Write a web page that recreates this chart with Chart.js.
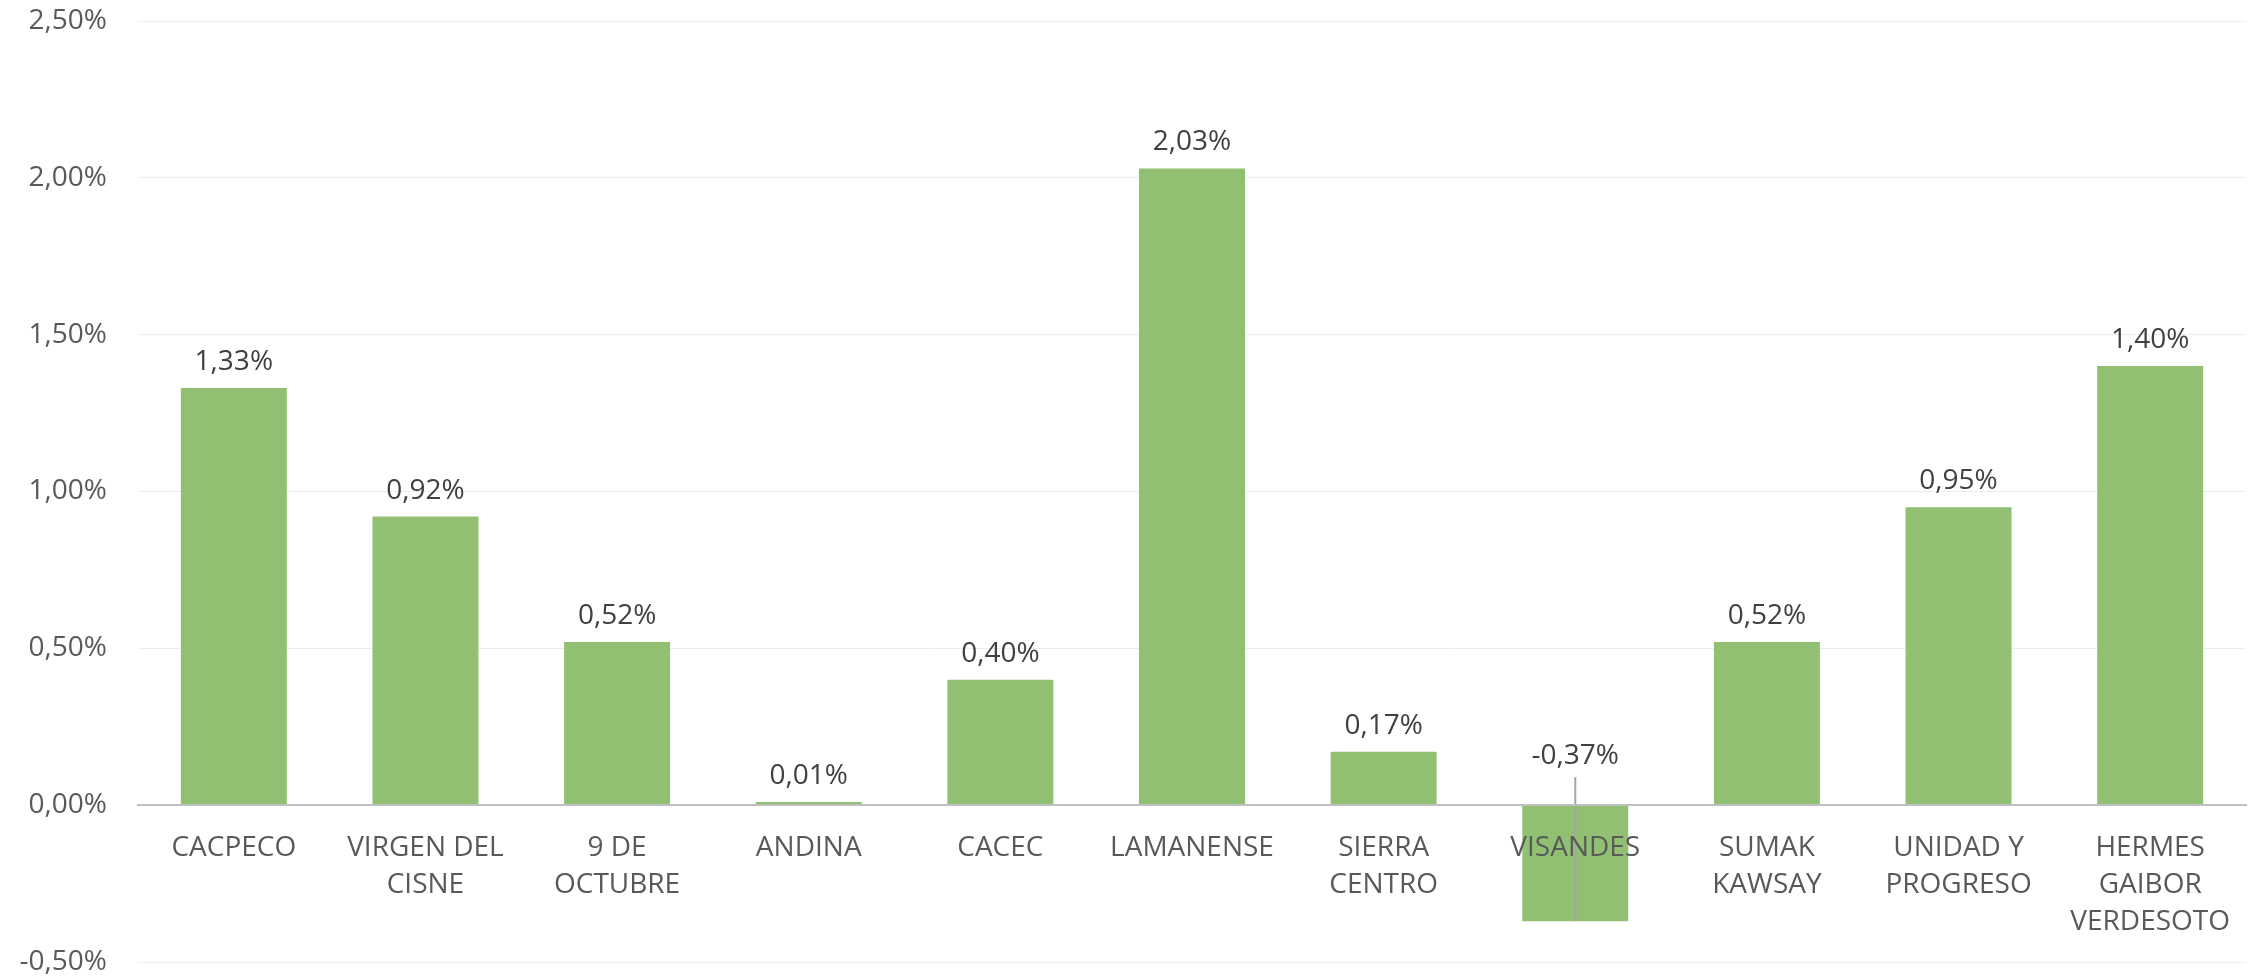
<!DOCTYPE html>
<html>
<head>
<meta charset="utf-8">
<script src="https://cdn.jsdelivr.net/npm/chart.js@4/dist/chart.umd.min.js"></script>
<style>
  html, body { margin: 0; padding: 0; background: #ffffff; }
  #wrap { width: 2255px; height: 979px; position: relative; }
</style>
</head>
<body>
<div id="wrap"><canvas id="c" width="2255" height="979"></canvas></div>
<script>
const categories = [
  ["CACPECO"],
  ["VIRGEN DEL", "CISNE"],
  ["9 DE", "OCTUBRE"],
  ["ANDINA"],
  ["CACEC"],
  ["LAMANENSE"],
  ["SIERRA", "CENTRO"],
  ["VISANDES"],
  ["SUMAK", "KAWSAY"],
  ["UNIDAD Y", "PROGRESO"],
  ["HERMES", "GAIBOR", "VERDESOTO"]
];
const values = [1.33, 0.92, 0.52, 0.01, 0.40, 2.03, 0.17, -0.37, 0.52, 0.95, 1.40];
const yMin = -0.5;
const yMax = 2.5;
const yStep = 0.5;

const fmt = v => v.toFixed(2).replace('.', ',') + '%';

const valueLabels = {
  id: 'valueLabels',
  afterDatasetsDraw(chart) {
    const ctx = chart.ctx;
    const meta = chart.getDatasetMeta(0);
    const yScale = chart.scales.y;
    const zero = yScale.getPixelForValue(0);
    ctx.save();
    ctx.font = '28px "Open Sans"';
    ctx.fillStyle = '#404040';
    ctx.textAlign = 'center';
    ctx.textBaseline = 'middle';
    meta.data.forEach((bar, i) => {
      const v = values[i];
      if (v >= 0) {
        ctx.fillText(fmt(v), bar.x, bar.y - 26);
      } else {
        ctx.fillText(fmt(v), bar.x, zero - 49);
        ctx.strokeStyle = '#A6A6A6';
        ctx.lineWidth = 2;
        ctx.beginPath();
        ctx.moveTo(bar.x, zero - 28);
        ctx.lineTo(bar.x, bar.y);
        ctx.stroke();
      }
    });
    ctx.restore();
  }
};

new Chart(document.getElementById('c'), {
  type: 'bar',
  data: {
    labels: categories,
    datasets: [{
      data: values,
      backgroundColor: 'rgb(145,192,114)',
      borderWidth: 0,
      categoryPercentage: 1,
      barPercentage: 0.553
    }]
  },
  options: {
    responsive: false,
    animation: false,
    devicePixelRatio: 1,
    layout: { padding: { top: 21, bottom: 17, left: 0, right: 9 } },
    plugins: { legend: { display: false }, tooltip: { enabled: false } },
    scales: {
      x: {
        position: { y: 0 },
        grid: { display: false, drawTicks: false },
        border: { display: true, color: '#BFBFBF', width: 2, z: 1 },
        ticks: {
          z: 1,
          color: '#595959',
          font: { family: 'Open Sans', size: 28, lineHeight: 1.32 },
          padding: 24,
          maxRotation: 0,
          autoSkip: false
        },
        afterFit(scale) { scale.height = 0; }
      },
      y: {
        min: yMin,
        max: yMax,
        grid: { color: '#EDEDED', lineWidth: 1, drawTicks: true, tickLength: 31, tickColor: 'rgba(0,0,0,0)' },
        border: { display: false },
        ticks: {
          stepSize: yStep,
          color: '#595959',
          font: { family: 'Open Sans', size: 28 },
          padding: 0,
          callback: v => fmt(v)
        },
        afterFit(scale) { scale.width = 138; }
      }
    }
  },
  plugins: [valueLabels]
});
</script>
</body>
</html>
